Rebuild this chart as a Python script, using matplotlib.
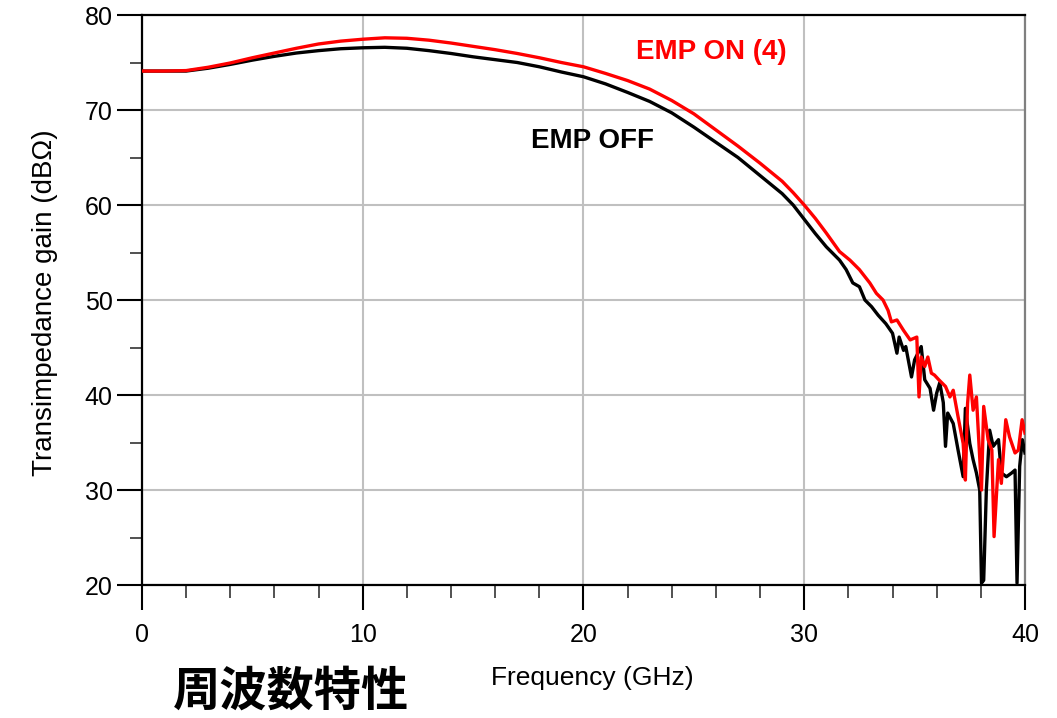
import matplotlib.pyplot as plt
from matplotlib.ticker import MultipleLocator

# EMP ON (4) - red curve
freq_on = [0.0, 1.0, 2.0, 3.0, 4.0, 5.0, 6.0, 7.0, 8.0, 9.0, 10.0, 11.0, 12.0, 13.0,
           14.0, 15.0, 16.0, 17.0, 18.0, 19.0, 20.0, 21.0, 22.0, 23.0, 24.0, 25.0,
           26.0, 27.0, 28.0, 29.0, 29.5, 30.0, 30.5, 31.0, 31.6,
           32.07, 32.5, 32.97, 33.27, 33.57, 33.8, 33.95, 34.2, 34.5, 34.8, 35.1,
           35.2, 35.3, 35.46, 35.6, 35.76, 35.9, 36.1, 36.4, 36.6, 36.75, 36.97,
           37.2, 37.3, 37.4, 37.5, 37.65, 37.8, 38.03, 38.13, 38.33, 38.5, 38.6,
           38.8, 38.93, 39.13, 39.3, 39.55, 39.7, 39.87, 40.0]
gain_on = [74.1, 74.1, 74.15, 74.5, 74.95, 75.5, 76.0, 76.5, 76.95, 77.25, 77.45, 77.6, 77.55, 77.35,
           77.05, 76.7, 76.35, 75.95, 75.5, 75.0, 74.55, 73.85, 73.1, 72.2, 71.0, 69.6,
           67.9, 66.2, 64.4, 62.5, 61.3, 60.0, 58.6, 57.05, 55.1,
           54.2, 53.2, 51.8, 50.7, 50.0, 48.9, 47.7, 47.9, 46.8, 45.8, 46.1,
           39.8, 44.0, 43.0, 44.0, 42.3, 42.1, 41.6, 40.9, 39.8, 40.5, 37.7,
           34.9, 31.05, 39.1, 42.1, 38.4, 39.8, 30.0, 38.8, 35.3, 34.2, 25.1,
           33.2, 30.7, 37.4, 35.6, 33.9, 34.2, 37.4, 36.0]

# EMP OFF - black curve
freq_off = [0.0, 1.0, 2.0, 3.0, 4.0, 5.0, 6.0, 7.0, 8.0, 9.0, 10.0, 11.0, 12.0, 13.0,
            14.0, 15.0, 16.0, 17.0, 18.0, 19.0, 20.0, 21.0, 22.0, 23.0, 24.0, 25.0,
            26.0, 27.0, 28.0, 29.0, 29.5, 30.0, 30.5, 31.0, 31.6,
            31.9, 32.2, 32.5, 32.75, 33.05, 33.35, 33.7, 34.0, 34.2, 34.3, 34.5,
            34.6, 34.86, 35.0, 35.3, 35.46, 35.7, 35.86, 36.0, 36.14, 36.3, 36.4,
            36.5, 36.75, 36.97, 37.2, 37.3, 37.5, 37.65, 37.8, 37.95, 38.03, 38.13,
            38.25, 38.4, 38.56, 38.8, 38.93, 39.16, 39.4, 39.55, 39.64, 39.76,
            39.88, 40.0]
gain_off = [74.1, 74.1, 74.1, 74.4, 74.8, 75.25, 75.65, 76.0, 76.25, 76.45, 76.55, 76.6, 76.5, 76.25,
            75.95, 75.6, 75.3, 75.0, 74.55, 74.0, 73.5, 72.75, 71.85, 70.9, 69.7, 68.2,
            66.6, 65.0, 63.1, 61.2, 60.0, 58.5, 57.0, 55.6, 54.2,
            53.2, 51.8, 51.4, 50.0, 49.3, 48.4, 47.5, 46.5, 44.4, 46.1, 44.7,
            45.1, 41.9, 43.7, 45.1, 41.6, 40.7, 38.4, 40.2, 41.3, 39.2, 34.6,
            38.1, 37.0, 34.2, 31.4, 38.6, 34.9, 33.2, 31.8, 30.0, 20.2, 20.5,
            30.0, 36.3, 34.6, 35.3, 31.8, 31.4, 31.8, 32.1, 20.2, 32.5,
            35.3, 33.9]

font = 'Liberation Sans'

fig = plt.figure(figsize=(10.57, 7.18), dpi=100)
ax = fig.add_axes([0.1343, 0.1852, 0.8354, 0.7939])

ax.plot(freq_off, gain_off, color='black', lw=2.4, zorder=3)
ax.plot(freq_on, gain_on, color='#ff0000', lw=2.4, zorder=4)

ax.set_xlim(0, 40)
ax.set_ylim(20, 80)
ax.xaxis.set_major_locator(MultipleLocator(10))
ax.xaxis.set_minor_locator(MultipleLocator(2))
ax.yaxis.set_major_locator(MultipleLocator(10))
ax.yaxis.set_minor_locator(MultipleLocator(5))

ax.grid(True, which='major', color='#c0c0c0', lw=1.5, zorder=0)
ax.tick_params(which='major', direction='out', length=18, width=1.5, color='black',
               labelsize=18, pad=3)
ax.tick_params(axis='x', which='major', pad=9)
ax.tick_params(which='minor', direction='out', length=9, width=1.2, color='#333333')
for lab in ax.get_xticklabels() + ax.get_yticklabels():
    lab.set_fontfamily(font)

for side in ['left', 'bottom', 'top']:
    ax.spines[side].set_color('black')
    ax.spines[side].set_linewidth(1.6)
ax.spines['right'].set_color('#808080')
ax.spines['right'].set_linewidth(1.6)

ax.text(25.8, 76.1, 'EMP ON (4)', color='#ff0000', fontsize=20, fontweight='bold',
        family=font, ha='center', va='center')
ax.text(20.4, 66.7, 'EMP OFF', color='black', fontsize=20, fontweight='bold',
        family=font, ha='center', va='center')

fig.text(0.560, 0.0557, 'Frequency (GHz)', fontsize=19, family=font,
         ha='center', va='center')
fig.text(0.0426, 0.579, 'Transimpedance gain (dBΩ)', fontsize=20, family=font,
         rotation=90, ha='center', va='center')
fig.text(0.2753, 0.0362, '周波数特性', fontsize=34, fontweight='bold',
         family=['Noto Sans CJK JP', 'DejaVu Sans'], ha='center', va='center')

fig.savefig('out.png', dpi=100)
